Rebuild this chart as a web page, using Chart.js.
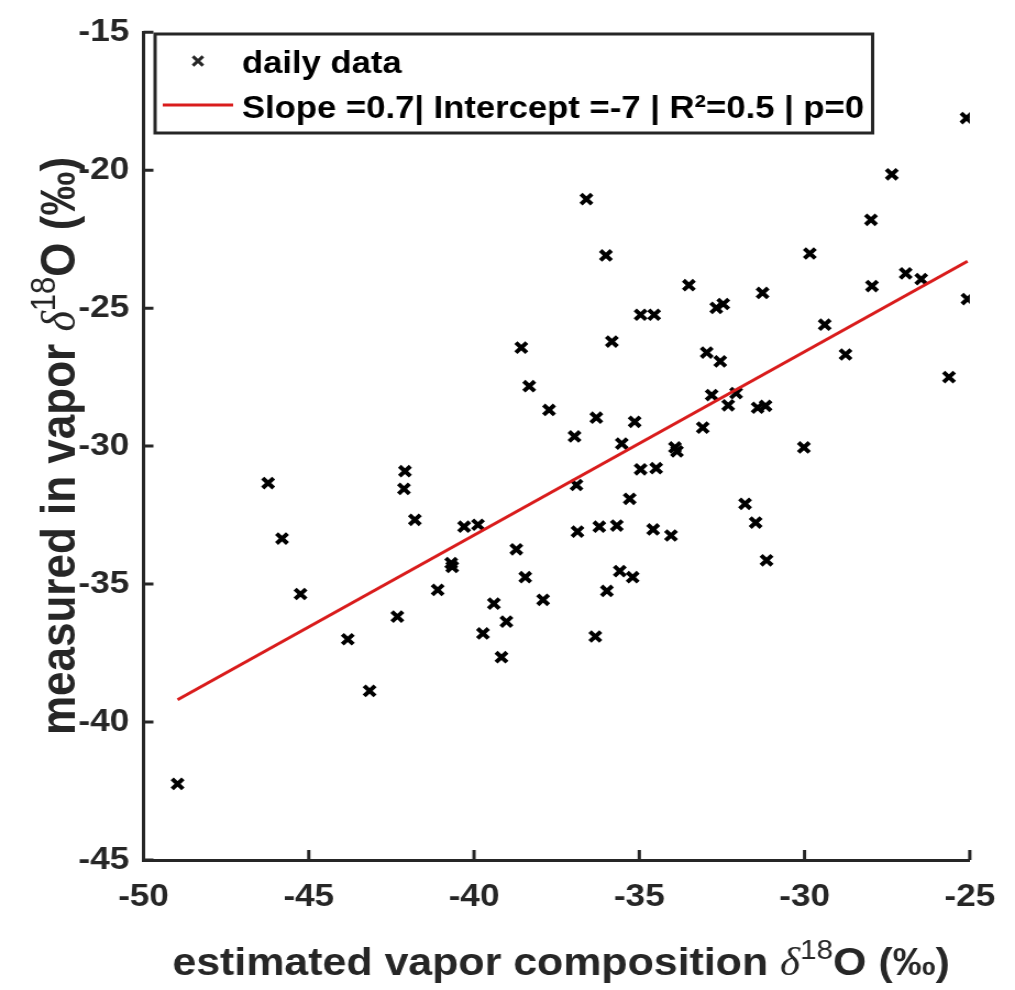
<!DOCTYPE html>
<html>
<head>
<meta charset="utf-8">
<script src="https://cdn.jsdelivr.net/npm/chart.js@4/dist/chart.umd.min.js"></script>
<style>
  html, body { margin: 0; padding: 0; background: #fff; overflow: hidden; }
  #wrap { width: 923px; height: 990px; transform: scaleX(1.0997); transform-origin: 0 0; }
</style>
</head>
<body>
<div id="wrap"><canvas id="c" width="923" height="990"></canvas></div>
<script>
// daily points (estimated vs measured d18O, permil)
const xVals = [-48.97, -46.23, -45.81, -45.25, -43.82, -43.16, -42.32, -42.09, -42.12, -41.79,
  -41.10, -40.69, -40.66, -40.30, -39.88, -39.73, -39.40, -39.17, -39.02, -38.72,
  -38.57, -38.45, -38.33, -37.91, -37.73, -36.96, -36.90, -36.87, -36.60, -36.33,
  -36.30, -36.21, -36.01, -35.98, -35.83, -35.68, -35.59, -35.53, -35.29, -35.20,
  -35.14, -34.96, -34.96, -34.58, -34.55, -34.49, -34.04, -33.92, -33.86, -33.50,
  -33.08, -32.96, -32.81, -32.67, -32.46, -32.55, -32.31, -32.07, -31.80, -31.48,
  -31.42, -31.27, -31.18, -31.15, -30.02, -29.84, -29.39, -28.76, -27.99, -27.96,
  -27.36, -26.94, -26.47, -25.63, -25.10, -25.07];
const yVals = [-42.24, -31.34, -33.35, -35.36, -37.00, -38.87, -36.18, -30.91, -31.55, -32.67,
  -35.21, -34.24, -34.38, -32.92, -32.85, -36.79, -35.71, -37.65, -36.36, -33.74,
  -26.43, -34.75, -27.83, -35.57, -28.69, -29.65, -31.41, -33.10, -21.05, -36.90,
  -28.97, -32.92, -23.09, -35.25, -26.21, -32.88, -34.53, -29.91, -31.91, -34.75,
  -29.12, -25.24, -30.84, -33.02, -25.24, -30.80, -33.24, -30.05, -30.19, -24.17,
  -29.33, -26.61, -28.15, -24.99, -24.85, -26.93, -28.52, -28.08, -32.09, -32.77,
  -28.61, -24.45, -28.54, -34.14, -30.05, -23.02, -25.60, -26.68, -21.80, -24.20,
  -20.15, -23.74, -23.95, -27.50, -18.11, -24.67];

// regression line end points
const fitX = [-48.97, -25.07];
const fitY = [-39.19, -23.30];

const seriesNames = ['daily data', 'Slope =0.7| Intercept =-7 | R\u00b2=0.5 | p=0'];
const xTicks = [-50, -45, -40, -35, -30, -25];
const yTicks = [-45, -40, -35, -30, -25, -20, -15];

const AX = '#262626';
const RED = '#d91c1c';
const SANS = "'Liberation Sans', Arial, Helvetica, sans-serif";
const SERIF = "'Liberation Serif', 'Times New Roman', serif";

Chart.defaults.font.family = SANS;

function richText(ctx, parts) {
  let w = 0;
  parts.forEach(p => { ctx.font = p.font; p.w = ctx.measureText(p.t).width; w += p.w; });
  let x = -w / 2;
  parts.forEach(p => {
    ctx.font = p.font;
    ctx.fillText(p.t, x, p.dy || 0);
    x += p.w;
  });
}

function titleParts(txt, S) {
  return [
    { t: txt, font: `bold ${S}px ${SANS}` },
    { t: '\u03b4', font: `italic ${S}px ${SERIF}` },
    { t: '18', font: `${Math.round(S * 0.7)}px ${SANS}`, dy: -S * 0.42 },
    { t: 'O (\u2030)', font: `bold ${S}px ${SANS}` }
  ];
}

const decor = {
  id: 'decor',
  afterDraw(chart) {
    const ctx = chart.ctx;
    const xs = chart.scales.x, ys = chart.scales.y;
    const a = chart.chartArea;
    ctx.save();
    // inward ticks
    ctx.strokeStyle = AX;
    ctx.lineWidth = 3;
    ctx.beginPath();
    xTicks.forEach(v => {
      const p = xs.getPixelForValue(v);
      ctx.moveTo(p, a.bottom); ctx.lineTo(p, a.bottom - 10);
    });
    yTicks.forEach(v => {
      const p = ys.getPixelForValue(v);
      ctx.moveTo(a.left, p); ctx.lineTo(a.left + 9, p);
    });
    ctx.stroke();

    // legend box
    const L = 141, T = 34, R = 793.5, B = 133;
    ctx.fillStyle = '#fff';
    ctx.fillRect(L, T, R - L, B - T);
    ctx.strokeStyle = AX;
    ctx.lineWidth = 3;
    ctx.strokeRect(L, T, R - L, B - T);
    const ds0 = chart.data.datasets[0];
    Chart.helpers.drawPoint(ctx, {
      pointStyle: 'crossRot', radius: 6.5, borderWidth: 4,
      borderColor: ds0.borderColor, backgroundColor: ds0.borderColor
    }, 180, 61);
    ctx.strokeStyle = RED;
    ctx.lineWidth = 3;
    ctx.beginPath();
    ctx.moveTo(148, 105); ctx.lineTo(212, 105);
    ctx.stroke();
    ctx.fillStyle = '#000';
    ctx.font = `bold 31.5px ${SANS}`;
    ctx.textBaseline = 'alphabetic';
    ctx.textAlign = 'left';
    ctx.fillText(seriesNames[0], 220, 73);
    ctx.fillText(seriesNames[1], 220, 118);

    // axis titles
    ctx.fillStyle = AX;
    ctx.save();
    ctx.translate((xs.left + xs.right) / 2 + 4, 975);
    richText(ctx, titleParts('estimated vapor composition ', 39));
    ctx.restore();
    ctx.save();
    ctx.translate(68, 446);
    ctx.rotate(-Math.PI / 2);
    richText(ctx, titleParts('measured in vapor ', 44));
    ctx.restore();
    ctx.restore();
  }
};

const points = xVals.map((x, i) => ({ x: x, y: yVals[i] }));
const fitLine = fitX.map((x, i) => ({ x: x, y: fitY[i] }));

new Chart(document.getElementById('c'), {
  type: 'scatter',
  data: {
    datasets: [
      {
        label: seriesNames[0],
        data: points,
        pointStyle: 'crossRot',
        pointRadius: 7,
        pointBorderWidth: 4,
        borderColor: '#000',
        backgroundColor: '#000',
        showLine: false,
        order: 2
      },
      {
        label: seriesNames[1],
        data: fitLine,
        showLine: true,
        borderColor: RED,
        borderWidth: 3,
        pointRadius: 0,
        order: 1
      }
    ]
  },
  options: {
    responsive: false,
    animation: false,
    events: [],
    layout: { padding: { top: 23, right: 30, left: 0, bottom: 0 } },
    plugins: { legend: { display: false }, tooltip: { enabled: false } },
    scales: {
      x: {
        type: 'linear', min: -50, max: -25,
        afterBuildTicks: s => { s.ticks = xTicks.map(v => ({ value: v })); },
        afterFit: s => { s.height = 130; },
        ticks: { color: AX, font: { size: 32, weight: 'bold' }, padding: 18, maxRotation: 0 },
        grid: { drawOnChartArea: false, drawTicks: false },
        border: { color: AX, width: 3 }
      },
      y: {
        type: 'linear', min: -45, max: -15,
        afterBuildTicks: s => { s.ticks = yTicks.map(v => ({ value: v })); },
        afterFit: s => { s.width = 130.5; },
        ticks: { color: AX, font: { size: 32, weight: 'bold' }, padding: 13 },
        grid: { drawOnChartArea: false, drawTicks: false },
        border: { color: AX, width: 3 }
      }
    }
  },
  plugins: [decor]
});
</script>
</body>
</html>
